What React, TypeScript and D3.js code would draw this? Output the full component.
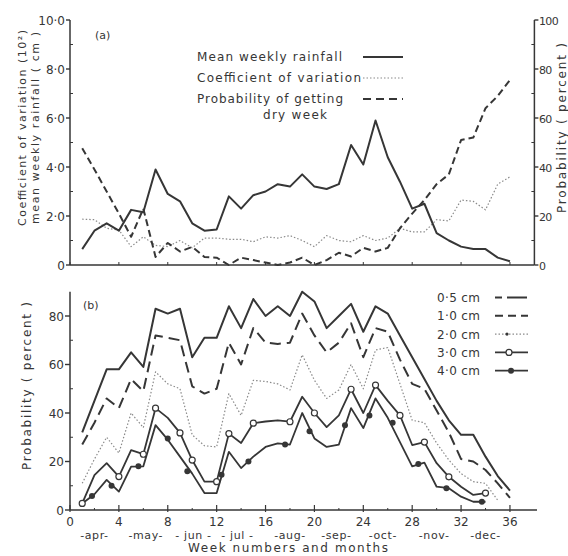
import * as d3 from "d3";
import { useEffect, useRef } from "react";

const W = 568;
const H = 556;
const FONT = "'DejaVu Sans', sans-serif";
const INK = "#363636";

// week numbers (x categories)
const weeks = [1, 2, 3, 4, 5, 6, 7, 8, 9, 10, 11, 12, 13, 14, 15, 16, 17, 18, 19, 20, 21, 22, 23, 24, 25, 26, 27, 28, 29, 30, 31, 32, 33, 34, 35, 36];

// panel (a)
const rainfall = [0.65, 1.4, 1.7, 1.4, 2.25, 2.15, 3.9, 2.9, 2.6, 1.7, 1.4, 1.45, 2.8, 2.3, 2.85, 3.0, 3.3, 3.2, 3.7, 3.2, 3.1, 3.3, 4.9, 4.1, 5.9, 4.4, 3.4, 2.3, 2.5, 1.3, 1.0, 0.75, 0.65, 0.65, 0.3, 0.15];
const coefVar = [1.87, 1.85, 1.5, 1.43, 0.75, 1.15, 0.8, 0.75, 1.0, 0.7, 1.1, 1.1, 1.05, 1.05, 0.95, 1.15, 1.1, 1.2, 1.0, 0.75, 1.2, 1.0, 0.95, 1.2, 1.0, 1.1, 1.5, 1.35, 1.35, 1.85, 1.8, 2.65, 2.6, 2.25, 3.3, 3.6];
const dryProb = [47.7, 39, 30, 21, 11.5, 23, 3.3, 9, 5.5, 7.4, 3.3, 3, 0, 3, 2, 1, 0, 1, 3, 0, 2, 5, 3.5, 7, 5.5, 7, 15, 21, 26.5, 33, 37, 51, 52, 64, 69, 75.5];

// panel (b) probabilities of weekly rainfall >= threshold
const p05 = [32, 45, 58, 58, 65, 59, 83, 81, 83, 63, 71, 71, 84, 75, 87, 80, 84, 80, 90, 86, 75, 80, 85, 73.5, 84, 81, 72, 63, 54, 45, 37, 31, 31, 22, 14, 8];
const p10 = [27, 36, 46, 42, 54, 49, 72, 71, 70, 51, 48, 50, 69, 60, 75, 69, 68.5, 69, 81, 72, 65, 69, 77, 63, 75, 73.5, 62, 52, 50, 41, 32, 21, 20, 16.5, 11, 5];
const p20 = [11, 21, 30, 23.5, 40, 34, 57, 52, 50, 31, 26.5, 26, 48, 39, 53.5, 53, 52, 49.5, 64, 53.5, 46, 49.5, 60, 50, 66, 67, 52, 37, 36, 27.6, 20.6, 15, 11.7, 11, 4];
const p30 = [2.7, 14.4, 19.3, 13.8, 24.7, 23, 42, 38, 31.8, 20.6, 11.7, 11.7, 31.5, 27.6, 35.8, 36.5, 37, 36.4, 46.7, 40, 34.2, 39, 49.8, 40, 51.5, 45, 39, 26.8, 28, 19.3, 13.7, 9.6, 6.2, 7];
const p40 = [2.7, 6.5, 12.4, 7.6, 17.9, 18, 35, 29, 22, 15, 7, 7, 24, 17.3, 22, 26, 27.5, 27, 40, 29.5, 26, 27, 42, 33.8, 46, 38, 28, 18, 19.5, 9.6, 9, 5.5, 3.4, 3.4];
const openWeeks30 = [1, 4, 6, 7, 9, 10, 12, 13, 15, 18, 20, 23, 25, 27, 29, 31, 34];
const dots40: [number, number][] = [
  [1.8, 5.8], [3.4, 10], [5.6, 18], [8, 29.5], [9.6, 16], [12.4, 14.5], [14.6, 20], [17.6, 27],
  [19.6, 32.5], [22.5, 35], [24.5, 39], [26.4, 36], [28.5, 19], [30.8, 9], [33.7, 3.4],
];

const weekTicks = [0, 4, 8, 12, 16, 20, 24, 28, 32, 36];
const minorWeekTicks = [2, 6, 10, 14, 18, 22, 26, 30, 34];
const monthLabels = ["-apr-", "-may-", "- jun -", "- jul -", "-aug-", "-sep-", "-oct-", "-nov-", "-dec-"];
const monthPos = [2, 6.2, 10.1, 13.7, 18, 21.8, 25.6, 29.8, 34];
const ticksALeft = [0, 2, 4, 6, 8, 10];
const ticksARight = [0, 20, 40, 60, 80, 100];
const ticksB = [0, 20, 40, 60, 80];

const fmtA = (v: number) => (v === 0 ? "0" : v.toFixed(1).replace(".", "·"));

export default function App() {
  const ref = useRef<SVGSVGElement>(null);

  useEffect(() => {
    const svg = d3.select(ref.current);
    svg.selectAll("*").remove();

    const x = d3.scaleLinear().domain([0, 38]).range([70, 534.4]);
    const yA = d3.scaleLinear().domain([0, 10]).range([265, 20]);
    const yAR = d3.scaleLinear().domain([0, 100]).range([265, 20]);
    const yB = d3.scaleLinear().domain([0, 90]).range([510, 291.75]);

    const txt = (g: any, px: number, py: number, s: string, size = 12, anchor = "start") =>
      g
        .append("text")
        .attr("x", px)
        .attr("y", py)
        .attr("font-family", FONT)
        .attr("font-size", size)
        .attr("fill", INK)
        .attr("text-anchor", anchor)
        .text(s);

    const ln = (g: any, x1: number, y1: number, x2: number, y2: number, w = 1.4) =>
      g.append("line").attr("x1", x1).attr("y1", y1).attr("x2", x2).attr("y2", y2).attr("stroke", INK).attr("stroke-width", w);

    const path = (g: any, pts: [number, number][], yS: any, style: { w: number; dash?: string; color?: string }) =>
      g
        .append("path")
        .attr("d", d3.line<[number, number]>().x((d) => x(d[0])).y((d) => yS(d[1]))(pts))
        .attr("fill", "none")
        .attr("stroke", style.color ?? INK)
        .attr("stroke-width", style.w)
        .attr("stroke-linejoin", "round")
        .attr("stroke-dasharray", style.dash ?? null);

    const pairs = (vals: number[]) => vals.map((v, i) => [weeks[i], v] as [number, number]);

    // ---------- panel (a) ----------
    const a = svg.append("g");
    ln(a, x(0), yA(10), x(0), yA(0), 1.5);
    ln(a, x(38), yAR(100), x(38), yAR(0), 1.5);
    ln(a, x(0), yA(0), x(38), yA(0), 1.5);
    ticksALeft.forEach((v) => {
      ln(a, x(0) - 4, yA(v), x(0), yA(v));
      txt(a, x(0) - 5, yA(v) + 4.5, fmtA(v), 12, "end");
    });
    [1, 3, 5, 7, 9].forEach((v) => ln(a, x(0), yA(v), x(0) + 3, yA(v), 1));
    ticksARight.forEach((v) => {
      ln(a, x(38), yAR(v), x(38) + 4, yAR(v));
      txt(a, x(38) + 4.5, yAR(v) + 4.5, String(v), 11, "start").attr("letter-spacing", -0.6);
    });
    [10, 30, 50, 70, 90].forEach((v) => ln(a, x(38) - 3, yAR(v), x(38), yAR(v), 1));
    weekTicks.forEach((w) => ln(a, x(w), yA(0), x(w), yA(0) - 3, 1));

    path(a, pairs(coefVar), yA, { w: 1.2, dash: "1.5,2", color: "#8a8a8a" });
    path(a, pairs(dryProb), yAR, { w: 2, dash: "7,4" });
    path(a, pairs(rainfall), yA, { w: 2 });

    txt(a, 95, 39, "(a)", 11);
    txt(a, 197, 61, "Mean weekly rainfall", 12).attr("textLength", 145);
    txt(a, 197, 82, "Coefficient of variation", 12).attr("textLength", 164);
    txt(a, 197, 103, "Probability of getting", 12).attr("textLength", 146);
    txt(a, 263, 119, "dry week", 12).attr("textLength", 64);
    ln(a, 363, 57, 403, 57, 2);
    ln(a, 363, 78, 403, 78, 1.2).attr("stroke", "#8a8a8a").attr("stroke-dasharray", "1.5,2");
    ln(a, 363, 99, 403, 99, 2).attr("stroke-dasharray", "8,5");

    a.append("text")
      .attr("transform", `translate(26,128) rotate(-90)`)
      .attr("font-family", FONT).attr("font-size", 11).attr("fill", INK).attr("text-anchor", "middle")
      .attr("textLength", 196)
      .text("Coefficient of variation (10²)");
    a.append("text")
      .attr("transform", `translate(39,128) rotate(-90)`)
      .attr("font-family", FONT).attr("font-size", 11).attr("fill", INK).attr("text-anchor", "middle")
      .attr("textLength", 192)
      .text("mean weekly rainfall ( cm )");
    a.append("text")
      .attr("transform", `translate(566,128) rotate(-90)`)
      .attr("font-family", FONT).attr("font-size", 12).attr("fill", INK).attr("text-anchor", "middle")
      .attr("textLength", 170)
      .text("Probability  ( percent )");

    // ---------- panel (b) ----------
    const b = svg.append("g");
    ln(b, x(0), yB(90), x(0), yB(0), 1.5);
    ln(b, x(0), yB(0), 537, yB(0), 1.5);
    ticksB.forEach((v) => {
      ln(b, x(0) - 5, yB(v), x(0), yB(v));
      txt(b, x(0) - 6, yB(v) + 4.5, String(v), 12, "end");
    });
    [10, 30, 50, 70].forEach((v) => ln(b, x(0), yB(v), x(0) + 3, yB(v), 1));
    weekTicks.forEach((w) => {
      ln(b, x(w), yB(0) - 5, x(w), yB(0) + 2, 1.2);
      txt(b, x(w), 526, String(w), 12, "middle");
    });
    minorWeekTicks.forEach((w) => ln(b, x(w), yB(0) - 2, x(w), yB(0), 1));
    monthLabels.forEach((m, i) => txt(b, x(monthPos[i]), 539, m, 11, "middle").attr("letter-spacing", 0.6));
    txt(b, 288, 552, "Week  numbers  and  months", 12, "middle").attr("textLength", 200);

    path(b, pairs(p20), yB, { w: 1.2, dash: "1.5,2", color: "#8a8a8a" });
    path(b, pairs(p10), yB, { w: 2, dash: "11,6" });
    path(b, pairs(p05), yB, { w: 2 });
    path(b, pairs(p30), yB, { w: 1.8 });
    path(b, pairs(p40), yB, { w: 1.8 });

    openWeeks30.forEach((w) => {
      b.append("circle").attr("cx", x(w)).attr("cy", yB(p30[w - 1])).attr("r", 3)
        .attr("fill", "#fff").attr("stroke", INK).attr("stroke-width", 1.2);
    });
    dots40.forEach(([w, v]) => {
      b.append("circle").attr("cx", x(w)).attr("cy", yB(v)).attr("r", 3).attr("fill", INK);
    });

    txt(b, 83, 309, "(b)", 11);
    b.append("text")
      .attr("transform", `translate(31,386) rotate(-90)`)
      .attr("font-family", FONT).attr("font-size", 12).attr("fill", INK).attr("text-anchor", "middle")
      .attr("textLength", 168)
      .text("Probability  ( percent )");

    const legend = [
      { label: "0·5 cm", w: 2, dash: "7,5,20", color: INK, mark: "" },
      { label: "1·0 cm", w: 2, dash: "8,5", color: INK, mark: "" },
      { label: "2·0 cm", w: 1.2, dash: "1.5,2", color: "#8a8a8a", mark: "small" },
      { label: "3·0 cm", w: 1.8, dash: null, color: INK, mark: "open" },
      { label: "4·0 cm", w: 1.8, dash: null, color: INK, mark: "filled" },
    ];
    legend.forEach((d, i) => {
      const cy = 297.5 + i * 18.3;
      txt(b, 437, cy + 4.5, d.label, 12).attr("textLength", 43);
      ln(b, 495, cy, 528, cy, d.w).attr("stroke", d.color).attr("stroke-dasharray", d.dash);
      if (d.mark === "open") {
        b.append("circle").attr("cx", 509).attr("cy", cy).attr("r", 3).attr("fill", "#fff").attr("stroke", INK).attr("stroke-width", 1.2);
      } else if (d.mark === "filled") {
        b.append("circle").attr("cx", 511).attr("cy", cy).attr("r", 3).attr("fill", INK);
      } else if (d.mark === "small") {
        b.append("circle").attr("cx", 507).attr("cy", cy).attr("r", 1.6).attr("fill", INK);
      }
    });
  }, []);

  return (
    <svg
      ref={ref}
      width={W}
      height={H}
      viewBox={`0 0 ${W} ${H}`}
      style={{ position: "absolute", left: 0, top: 0, background: "#fff" }}
    />
  );
}
